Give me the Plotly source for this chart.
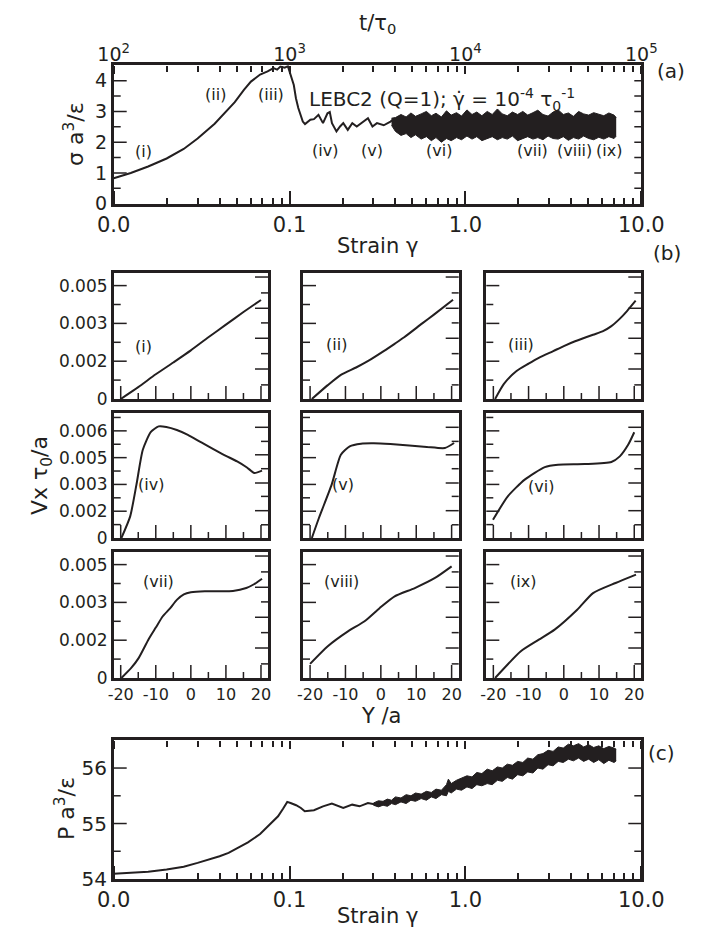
import numpy as np
import plotly.graph_objects as go

C = "#231f20"
FONT = "DejaVu Sans"
W, H = 702, 930

# ---------------- Panel (a): stress vs strain ----------------
gamma_a = [0.01, 0.0125, 0.0157, 0.02, 0.025, 0.03, 0.0375, 0.0488, 0.055, 0.0603, 0.068,
           0.075, 0.081, 0.085, 0.0887, 0.0939, 0.0978, 0.1013, 0.1057, 0.1087, 0.1121,
           0.1189, 0.1224, 0.1313, 0.1376, 0.146, 0.1504, 0.1549, 0.1643, 0.1693, 0.1742,
           0.1848, 0.1937, 0.202, 0.2143, 0.2273, 0.241, 0.2632, 0.2791, 0.296, 0.314,
           0.3431, 0.3748, 0.3972]
sigma_a = [0.83, 1.0, 1.21, 1.47, 1.78, 2.12, 2.6, 3.3, 3.7, 3.97, 4.2,
           4.3, 4.41, 4.36, 4.46, 4.42, 4.47, 4.19, 3.86, 3.43, 3.11,
           2.67, 2.59, 2.73, 2.75, 2.89, 2.73, 2.62, 2.94, 2.98, 2.62,
           2.35, 2.51, 2.62, 2.40, 2.62, 2.51, 2.67, 2.78, 2.51, 2.62,
           2.55, 2.67, 2.78]

gamma_band_a = [0.38, 0.40, 0.43, 0.46, 0.49, 0.52, 0.56, 0.60, 0.64, 0.68, 0.73, 0.78, 0.83,
                0.89, 0.95, 1.02, 1.09, 1.16, 1.24, 1.33, 1.42, 1.52, 1.62, 1.73, 1.85, 1.98,
                2.12, 2.26, 2.42, 2.58, 2.76, 2.95, 3.15, 3.37, 3.6, 3.85, 4.11, 4.4, 4.7,
                5.02, 5.36, 5.73, 6.12, 6.54, 7.0, 7.2]
upper_a = [2.78, 2.80, 2.90, 2.82, 2.95, 2.84, 2.92, 3.0, 2.86, 2.94, 2.82, 3.02, 2.88,
           2.96, 2.85, 3.05, 2.90, 2.98, 2.86, 3.0, 2.90, 3.08, 2.92, 2.86, 2.98, 2.90,
           3.0, 2.88, 2.96, 3.04, 2.90, 2.85, 2.98, 3.05, 2.90, 2.95, 2.84, 3.0, 2.92,
           2.88, 2.96, 2.90, 2.86, 2.95, 2.88, 2.80]
lower_a = [2.55, 2.35, 2.22, 2.28, 2.15, 2.24, 2.10, 2.18, 2.05, 2.15, 2.0, 2.12, 2.05,
           2.15, 2.08, 2.20, 2.10, 2.18, 2.05, 2.12, 2.18, 2.08, 2.15, 2.10, 2.20, 2.05,
           2.12, 2.18, 2.10, 2.15, 2.08, 2.20, 2.12, 2.10, 2.18, 2.06, 2.15, 2.10, 2.20,
           2.12, 2.08, 2.16, 2.10, 2.18, 2.12, 2.20]

labels_a = ["(i)", "(ii)", "(iii)", "(iv)", "(v)", "(vi)", "(vii)", "(viii)", "(ix)"]
labels_a_gamma = [0.0148, 0.038, 0.078, 0.159, 0.296, 0.706, 2.42, 4.18, 6.51]
labels_a_sigma = [1.70, 3.54, 3.54, 1.72, 1.72, 1.72, 1.72, 1.72, 1.72]

# ---------------- Panel (b): velocity profiles (Vx in 1e-3 units) ----------------
Y_i = [-20, -15, -10, -5, 0, 5, 10, 15, 20]
V_i = [0, 0.47, 0.98, 1.45, 1.93, 2.45, 2.95, 3.45, 3.93]
Y_ii = [-19.5, -15, -11.3, -7, -3.7, 0.8, 4, 6.6, 11.7, 15, 20.4]
V_ii = [0, 0.55, 0.96, 1.25, 1.5, 1.9, 2.2, 2.45, 3.0, 3.35, 3.94]
Y_iii = [-19.5, -17, -13.5, -10, -7.1, -3, 0, 3.2, 8.3, 11, 13.4, 16, 18, 20.4]
V_iii = [0, 0.6, 1.1, 1.4, 1.63, 1.9, 2.1, 2.29, 2.55, 2.68, 2.88, 3.2, 3.5, 3.9]
Y_iv = [-19.8, -17.3, -15.5, -13.7, -11.4, -9.2, -7, -4, -0.85, 3, 6.8, 10, 13.2, 16, 18.1, 20.3]
V_iv = [0, 1.21, 3.0, 4.94, 5.94, 6.25, 6.22, 6.05, 5.78, 5.35, 4.94, 4.6, 4.29, 3.95, 3.64, 3.77]
Y_v = [-19.5, -17.5, -13.9, -11.3, -8.8, -5.6, -2, 2.7, 8, 13, 18.1, 20.7]
V_v = [0, 1.12, 2.99, 4.66, 5.13, 5.28, 5.3, 5.26, 5.18, 5.1, 5.04, 5.32]
Y_vi = [-20.1, -15.9, -11.1, -5.4, -1.65, 5.9, 13.5, 15.9, 18.3, 20]
V_vi = [1.02, 2.33, 3.27, 3.97, 4.1, 4.14, 4.26, 4.57, 5.23, 5.92]
Y_vii = [-19.8, -17, -14.9, -12, -10, -8, -6, -4, -2, 0, 4, 8, 12, 15.8, 18, 20.3]
V_vii = [0, 0.4, 0.79, 1.55, 2.0, 2.45, 2.75, 3.1, 3.32, 3.4, 3.44, 3.44, 3.45, 3.57, 3.72, 3.94]
Y_viii = [-20, -15, -9.3, -4.6, -0.3, 3.9, 9.6, 15.3, 20]
V_viii = [0.56, 1.26, 1.85, 2.25, 2.78, 3.24, 3.57, 3.97, 4.43]
Y_ix = [-19.5, -12.2, -7.1, -2.6, 3.8, 8.3, 14.7, 20.5]
V_ix = [0, 1.06, 1.52, 1.92, 2.71, 3.37, 3.77, 4.1]

profiles_Y = [Y_i, Y_ii, Y_iii, Y_iv, Y_v, Y_vi, Y_vii, Y_viii, Y_ix]
profiles_V = [V_i, V_ii, V_iii, V_iv, V_v, V_vi, V_vii, V_viii, V_ix]
labels_b = ["(i)", "(ii)", "(iii)", "(iv)", "(v)", "(vi)", "(vii)", "(viii)", "(ix)"]
labels_b_Y = [-13.5, -12.6, -12.2, -11.3, -10.7, -6.6, -9.2, -11.0, -11.5]
labels_b_V = [2.09, 2.15, 2.15, 2.98, 2.98, 2.9, 3.84, 3.81, 3.84]

vel_tickvals_13 = [0, 0.0015, 0.003, 0.0045]
vel_ticktext_13 = ["0", "0.002", "0.003", "0.005"]
vel_tickvals_2 = [0, 0.0015, 0.003, 0.0045, 0.006]
vel_ticktext_2 = ["0", "0.002", "0.003", "0.005", "0.006"]
Y_tickvals = [-20, -10, 0, 10, 20]
Y_ticktext = ["-20", "-10", "0", "10", "20"]
Y_minor = [-15, -5, 5, 15]

# ---------------- Panel (c): pressure vs strain ----------------
gamma_c = [0.01, 0.0125, 0.0157, 0.02, 0.025, 0.03, 0.035, 0.04, 0.045, 0.0487, 0.058,
           0.068, 0.077, 0.086, 0.092, 0.097, 0.1013, 0.109, 0.116, 0.122, 0.1376, 0.1549,
           0.174, 0.202, 0.227, 0.25, 0.279, 0.314]
P_c = [54.095, 54.11, 54.13, 54.17, 54.22, 54.29, 54.35, 54.41, 54.47, 54.53, 54.66,
       54.81, 54.97, 55.13, 55.27, 55.39, 55.37, 55.33, 55.28, 55.22, 55.24, 55.31,
       55.36, 55.28, 55.34, 55.31, 55.37, 55.34]

gamma_band_c = [0.30, 0.32, 0.34, 0.36, 0.38, 0.40, 0.43, 0.46, 0.49, 0.52, 0.56, 0.60,
                0.64, 0.68, 0.73, 0.78, 0.80, 0.83, 0.89, 0.95, 1.02, 1.09, 1.16, 1.24,
                1.33, 1.42, 1.52, 1.62, 1.73, 1.85, 1.98, 2.12, 2.26, 2.42, 2.58, 2.76,
                2.95, 3.15, 3.37, 3.6, 3.85, 4.11, 4.4, 4.7, 5.02, 5.36, 5.73, 6.12, 6.54,
                7.0, 7.2]
upper_c = [55.37, 55.41, 55.40, 55.44, 55.42, 55.48, 55.46, 55.52, 55.50, 55.55, 55.53, 55.58,
           55.56, 55.62, 55.60, 55.70, 55.80, 55.72, 55.78, 55.82, 55.86, 55.84, 55.92, 55.90,
           55.98, 55.95, 56.02, 56.00, 56.07, 56.05, 56.12, 56.10, 56.18, 56.16, 56.24, 56.26,
           56.32, 56.30, 56.38, 56.36, 56.43, 56.40, 56.44, 56.38, 56.42, 56.37, 56.40, 56.35,
           56.39, 56.36, 56.34]
lower_c = [55.33, 55.30, 55.33, 55.31, 55.36, 55.34, 55.39, 55.36, 55.42, 55.40, 55.45, 55.42,
           55.48, 55.45, 55.52, 55.50, 55.58, 55.55, 55.62, 55.60, 55.66, 55.63, 55.70, 55.68,
           55.72, 55.70, 55.78, 55.76, 55.83, 55.80, 55.88, 55.86, 55.93, 55.91, 56.00, 55.98,
           56.06, 56.04, 56.12, 56.10, 56.16, 56.13, 56.18, 56.12, 56.16, 56.10, 56.15, 56.08,
           56.14, 56.10, 56.13]

strain_tickvals = [0.01, 0.1, 1, 10]
strain_ticktext = ["0.0", "0.1", "1.0", "10.0"]
time_tickvals = [1e2, 1e3, 1e4, 1e5]
time_ticktext = ["10<sup>2</sup>", "10<sup>3</sup>", "10<sup>4</sup>", "10<sup>5</sup>"]


def pxx(x):
    return x / W


def pyy(y):
    return 1 - y / H


log_minor = [m * 10.0 ** e for e in (-2, -1, 0) for m in range(2, 10)]

A_LEFT, A_RIGHT = 105.7, 633.3
A_TOP, A_BOT = 57.3, 195.7
C_TOP, C_BOT = 732.3, 871.0
dom_a_x = [pxx(A_LEFT), pxx(A_RIGHT)]
dom_a_y = [pyy(A_BOT), pyy(A_TOP)]
dom_c_y = [pyy(C_BOT), pyy(C_TOP)]
cols = [(105.7, 260.0), (295.0, 450.7), (478.3, 633.3)]
rows = [(265.0, 391.0), (405.0, 530.0), (544.0, 670.0)]

fig = go.Figure()
layout = dict(
    width=W, height=H, margin=dict(l=0, r=0, t=0, b=0),
    paper_bgcolor="white", plot_bgcolor="white", showlegend=False,
    font=dict(family=FONT, color=C),
)
NOAX = dict(showgrid=False, zeroline=False, automargin=False)
shapes = []
TICK = dict(color=C, width=1.5)


def y_ticks(yref, left_px, right_px, vals, length, side):
    """Inward tick marks on a vertical frame edge, placed at axis values."""
    for v in vals:
        if side == "left":
            x0, x1 = pxx(left_px), pxx(left_px + length)
        else:
            x0, x1 = pxx(right_px - length), pxx(right_px)
        shapes.append(dict(type="line", xref="paper", yref=yref, x0=x0, x1=x1, y0=v, y1=v,
                           line=TICK, layer="above"))


def x_ticks(xref, bottom_px, vals, length):
    for v in vals:
        shapes.append(dict(type="line", xref=xref, yref="paper", x0=v, x1=v,
                           y0=pyy(bottom_px), y1=pyy(bottom_px - length),
                           line=TICK, layer="above"))


counter = {"x": 13}


def log_tick_axis(main, other, position, side, major_len, far_y):
    """Unlabelled log overlay axis whose 'outside' ticks point into the plot area."""
    n = counter["x"]
    counter["x"] += 1
    layout[f"xaxis{n}"] = dict(type="log", range=[-2, 1], overlaying=main, anchor="free",
                               position=position, side=side, tickmode="array",
                               tickvals=strain_tickvals, ticks="outside", ticklen=major_len,
                               tickwidth=1.5, tickcolor=C, showticklabels=False,
                               showline=False,
                               minor=dict(tickmode="array", tickvals=log_minor,
                                          ticks="outside", ticklen=6, tickwidth=1.5,
                                          tickcolor=C, showgrid=False), **NOAX)
    fig.add_trace(go.Scatter(x=[1.0], y=[far_y], xaxis=f"x{n}", yaxis=other,
                             mode="markers", marker=dict(opacity=0), hoverinfo="skip"))


def main_axis(base, domain, anchor, tickvals, ticktext, size, show=True):
    d = dict(base, domain=domain, anchor=anchor, tickmode="array", tickvals=tickvals,
             ticks="", showticklabels=show, tickangle=0,
             showline=True, linewidth=2.5, linecolor=C, mirror=True,
             tickfont=dict(size=size, family=FONT, color=C), **NOAX)
    if ticktext is not None:
        d["ticktext"] = ticktext
    return d


strain_base = dict(type="log", range=[-2, 1])
sig_base = dict(type="linear", range=[0, 4.5])
Ybase = dict(type="linear", range=[-22, 22])
P_base = dict(type="linear", range=[54, 56.5])

# ---------------- panel (a) ----------------
fig.add_trace(go.Scatter(x=gamma_a, y=sigma_a, mode="lines",
                         line=dict(color=C, width=2), xaxis="x", yaxis="y"))
fig.add_trace(go.Scatter(x=gamma_band_a, y=lower_a, mode="lines",
                         line=dict(color=C, width=1), xaxis="x", yaxis="y"))
fig.add_trace(go.Scatter(x=gamma_band_a, y=upper_a, mode="lines", fill="tonexty",
                         fillcolor=C, line=dict(color=C, width=1), xaxis="x", yaxis="y"))
fig.add_trace(go.Scatter(x=[1e3], y=[-100], mode="markers", xaxis="x2", yaxis="y",
                         marker=dict(opacity=0), hoverinfo="skip"))

layout["xaxis"] = main_axis(strain_base, dom_a_x, "y", strain_tickvals, strain_ticktext, 21)
layout["yaxis"] = main_axis(sig_base, dom_a_y, "x", [0, 1, 2, 3, 4], None, 19)
layout["xaxis2"] = dict(type="log", range=[2, 5], domain=dom_a_x, overlaying="x", anchor="y",
                        side="top", tickmode="array", tickvals=time_tickvals,
                        ticktext=time_ticktext, ticks="", showline=False,
                        tickfont=dict(size=19, family=FONT, color=C), **NOAX)
log_tick_axis("x", "y", dom_a_y[0], "top", 13, -100)
log_tick_axis("x", "y", dom_a_y[1], "bottom", 8, -100)
y_ticks("y", A_LEFT, A_RIGHT, [1, 2, 3, 4], 13, "left")
y_ticks("y", A_LEFT, A_RIGHT, [0.5, 1.5, 2.5, 3.5], 7, "left")
y_ticks("y", A_LEFT, A_RIGHT, [0.5, 1, 1.5, 2, 2.5, 3, 3.5, 4], 7, "right")

annotations = []
for lab, g, s in zip(labels_a, labels_a_gamma, labels_a_sigma):
    annotations.append(dict(x=np.log10(g), y=s, xref="x", yref="y", text=lab, showarrow=False,
                            font=dict(size=16, family=FONT, color=C)))
annotations.append(dict(x=pxx(299), y=pyy(92), xref="paper", yref="paper", xanchor="left",
                        yanchor="middle", showarrow=False,
                        text="LEBC2 (Q=1); γ̇ = 10<sup>-4</sup> τ<sub>0</sub><sup>-1</sup>",
                        font=dict(size=20, family=FONT, color=C)))

# ---------------- panel (b) ----------------
right_long_13 = [0.00119, 0.00241, 0.0036, 0.00484]
right_short_13 = [0.00056, 0.0018, 0.00302, 0.00421]
right_long_2 = [0.00153, 0.00308, 0.00466, 0.0062]
right_short_2 = [0.00074, 0.00233, 0.00388, 0.00541]
for k in range(9):
    r, c = divmod(k, 3)
    n = 3 + k
    xr, yr = f"x{n}", f"y{n}"
    fig.add_trace(go.Scatter(x=profiles_Y[k], y=[v * 1e-3 for v in profiles_V[k]],
                             mode="lines", line=dict(color=C, width=2, shape="spline",
                                                     smoothing=0.6),
                             xaxis=xr, yaxis=yr))
    x0, x1 = cols[c]
    y0, y1 = rows[r]
    xdom = [pxx(x0), pxx(x1)]
    ydom = [pyy(y1), pyy(y0)]
    layout[f"xaxis{n}"] = main_axis(Ybase, xdom, yr, Y_tickvals, Y_ticktext, 16,
                                    show=(r == 2))
    if r == 1:
        vb = dict(type="linear", range=[0, 0.007])
        tv, tt = vel_tickvals_2, vel_ticktext_2
        rl, rs = right_long_2, right_short_2
        minor_v = [0.00075, 0.00225, 0.00375, 0.00525, 0.00675]
    else:
        vb = dict(type="linear", range=[0, 0.005])
        tv, tt = vel_tickvals_13, vel_ticktext_13
        rl, rs = right_long_13, right_short_13
        minor_v = [0.00075, 0.00225, 0.00375]
    layout[f"yaxis{n}"] = main_axis(vb, ydom, xr, tv, tt, 17, show=(c == 0))
    x_ticks(xr, y1, Y_tickvals, 13)
    x_ticks(xr, y1, Y_minor, 6)
    y_ticks(yr, x0, x1, tv[1:], 13, "left")
    y_ticks(yr, x0, x1, minor_v, 7, "left")
    y_ticks(yr, x0, x1, rl, 13, "right")
    y_ticks(yr, x0, x1, rs, 7, "right")
    annotations.append(dict(x=labels_b_Y[k], y=labels_b_V[k] * 1e-3, xref=xr, yref=yr,
                            text=labels_b[k], showarrow=False,
                            font=dict(size=16, family=FONT, color=C)))

# ---------------- panel (c) ----------------
fig.add_trace(go.Scatter(x=gamma_c, y=P_c, mode="lines", line=dict(color=C, width=2),
                         xaxis="x12", yaxis="y12"))
fig.add_trace(go.Scatter(x=gamma_band_c, y=lower_c, mode="lines",
                         line=dict(color=C, width=1), xaxis="x12", yaxis="y12"))
fig.add_trace(go.Scatter(x=gamma_band_c, y=upper_c, mode="lines", fill="tonexty",
                         fillcolor=C, line=dict(color=C, width=1), xaxis="x12", yaxis="y12"))
layout["xaxis12"] = main_axis(strain_base, dom_a_x, "y12", strain_tickvals, strain_ticktext, 21)
layout["yaxis12"] = main_axis(P_base, dom_c_y, "x12", [54, 55, 56], None, 20)
log_tick_axis("x12", "y12", dom_c_y[0], "top", 13, 0.0)
log_tick_axis("x12", "y12", dom_c_y[1], "bottom", 8, 0.0)
y_ticks("y12", A_LEFT, A_RIGHT, [55, 56], 13, "left")
y_ticks("y12", A_LEFT, A_RIGHT, [54.5, 55.5], 7, "left")
y_ticks("y12", A_LEFT, A_RIGHT, [55, 56], 13, "right")
y_ticks("y12", A_LEFT, A_RIGHT, [54.5, 55.5], 7, "right")


def txt(x, y, s, size, angle=0):
    annotations.append(dict(x=pxx(x), y=pyy(y), xref="paper", yref="paper", text=s,
                            showarrow=False, textangle=angle, xanchor="center",
                            yanchor="middle", font=dict(size=size, family=FONT, color=C)))


txt(369.5, 16, "t/τ<sub>0</sub>", 21)
txt(369.5, 238, "Strain γ", 21)
txt(66, 126, "σ a<sup>3</sup>/ε", 22, -90)
txt(663, 63, "(a)", 20)
txt(659, 245, "(b)", 20)
txt(34, 468, "Vx τ<sub>0</sub>/a", 22, -90)
txt(373, 708, "Y /a", 21)
txt(653, 745, "(c)", 20)
txt(57, 801, "P a<sup>3</sup>/ε", 22, -90)
txt(369.5, 908, "Strain γ", 21)

layout["annotations"] = annotations
layout["shapes"] = shapes
fig.update_layout(**layout)
fig.write_html("out.html")
